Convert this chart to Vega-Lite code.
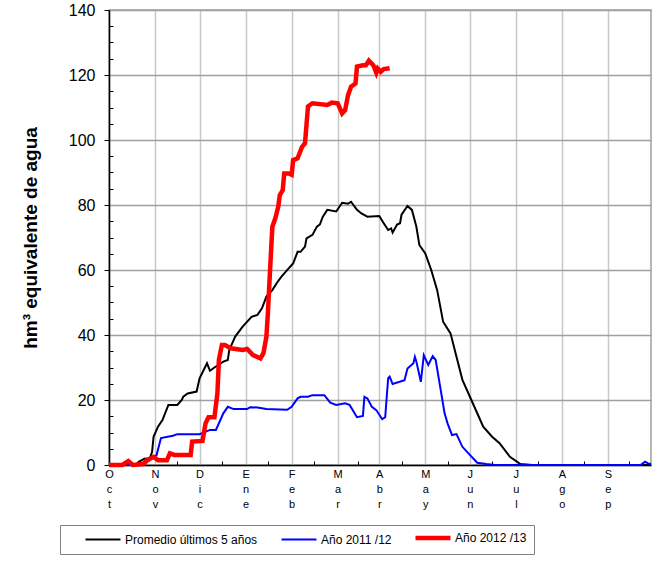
{
  "$schema": "https://vega.github.io/schema/vega-lite/v6.json",
  "width": 542,
  "height": 455,
  "autosize": "none",
  "padding": {"left": 109, "top": 10, "right": 7, "bottom": 97},
  "background": "white",
  "config": {
    "font": "Liberation Sans",
    "view": {"stroke": "#a0a0a0", "strokeWidth": 1.5}
  },
  "title": {"text": "121,9 hm³", "anchor": "start", "frame": "group", "dx": 356, "offset": 6, "fontSize": 16, "fontWeight": "bold", "color": "black"},
  "datasets": {
    "P": [{"d":0,"v":0},{"d":18,"v":0},{"d":20,"v":1},{"d":24,"v":2},{"d":27,"v":1.5},{"d":29,"v":4},{"d":30,"v":8.7},{"d":33,"v":11.8},{"d":36,"v":13.8},{"d":40,"v":18.5},{"d":46,"v":18.5},{"d":49,"v":20},{"d":50,"v":21},{"d":53,"v":22},{"d":59,"v":22.6},{"d":61,"v":26.7},{"d":66,"v":31.3},{"d":68,"v":29},{"d":71,"v":30},{"d":77,"v":31.8},{"d":80,"v":32.3},{"d":81,"v":35.4},{"d":85,"v":39.5},{"d":90,"v":42.6},{"d":96,"v":45.6},{"d":100,"v":46.2},{"d":103,"v":48.2},{"d":106,"v":51.8},{"d":110,"v":53.8},{"d":113,"v":56},{"d":116,"v":57.9},{"d":121,"v":60.5},{"d":124,"v":62},{"d":127,"v":65.6},{"d":129,"v":65.6},{"d":132,"v":67.2},{"d":133,"v":69.7},{"d":137,"v":70.8},{"d":140,"v":73.3},{"d":142,"v":74},{"d":144,"v":76.4},{"d":147,"v":78.5},{"d":153,"v":78},{"d":157,"v":80.7},{"d":161,"v":80.4},{"d":163,"v":81},{"d":167,"v":78.5},{"d":170,"v":77.4},{"d":174,"v":76.4},{"d":182,"v":76.6},{"d":185,"v":74.4},{"d":188,"v":72.3},{"d":190,"v":72.8},{"d":191,"v":71.5},{"d":194,"v":74},{"d":196,"v":74.4},{"d":197,"v":77},{"d":201,"v":79.7},{"d":204,"v":78.5},{"d":207,"v":73.3},{"d":209,"v":67.7},{"d":213,"v":65.1},{"d":217,"v":60},{"d":221,"v":53.8},{"d":225,"v":44.1},{"d":230,"v":40.5},{"d":234,"v":33.3},{"d":238,"v":26.2},{"d":245,"v":19},{"d":252,"v":11.8},{"d":258,"v":8.7},{"d":263,"v":6.7},{"d":270,"v":2.5},{"d":277,"v":0.3},{"d":285,"v":0},{"d":365,"v":0}],
    "B": [{"d":0,"v":0},{"d":23,"v":0},{"d":25,"v":2},{"d":30,"v":2.5},{"d":32,"v":3},{"d":35,"v":8.3},{"d":43,"v":9},{"d":46,"v":9.5},{"d":61,"v":9.5},{"d":68,"v":10.8},{"d":72,"v":10.8},{"d":77,"v":15.9},{"d":80,"v":17.9},{"d":84,"v":17.2},{"d":93,"v":17.2},{"d":95,"v":17.8},{"d":100,"v":17.7},{"d":106,"v":17.2},{"d":120,"v":17},{"d":123,"v":17.9},{"d":127,"v":20.5},{"d":129,"v":21},{"d":134,"v":21},{"d":137,"v":21.5},{"d":145,"v":21.5},{"d":149,"v":19.2},{"d":153,"v":18.5},{"d":159,"v":19},{"d":162,"v":18.5},{"d":167,"v":14.7},{"d":171,"v":15.1},{"d":172,"v":21},{"d":174,"v":20.5},{"d":177,"v":17.9},{"d":180,"v":16.9},{"d":184,"v":14.1},{"d":186,"v":14.7},{"d":188,"v":26.7},{"d":189,"v":27.2},{"d":191,"v":24.9},{"d":199,"v":26.1},{"d":201,"v":29.7},{"d":205,"v":31.3},{"d":206,"v":33.3},{"d":207,"v":31.8},{"d":210,"v":25.6},{"d":212,"v":33.8},{"d":215,"v":30.8},{"d":218,"v":33.5},{"d":220,"v":32.3},{"d":223,"v":24.1},{"d":226,"v":15.9},{"d":228,"v":12.8},{"d":231,"v":9.2},{"d":234,"v":9.5},{"d":238,"v":5.6},{"d":243,"v":3.1},{"d":248,"v":0.7},{"d":254,"v":0.3},{"d":260,"v":0},{"d":358,"v":0},{"d":361,"v":1},{"d":363,"v":0.5},{"d":365,"v":0.3}],
    "R": [{"d":0,"v":0},{"d":9,"v":0},{"d":13,"v":1.2},{"d":16,"v":0},{"d":23,"v":0.3},{"d":26,"v":1.5},{"d":30,"v":2.5},{"d":33,"v":1.5},{"d":39,"v":1.5},{"d":41,"v":3.6},{"d":44,"v":3.1},{"d":55,"v":3.1},{"d":56,"v":7.2},{"d":63,"v":7.4},{"d":65,"v":12.8},{"d":67,"v":14.7},{"d":71,"v":14.7},{"d":73,"v":22},{"d":74,"v":32.3},{"d":76,"v":36.9},{"d":78,"v":36.9},{"d":82,"v":35.9},{"d":90,"v":35.4},{"d":93,"v":35.7},{"d":97,"v":33.8},{"d":102,"v":32.8},{"d":104,"v":34.4},{"d":106,"v":39.5},{"d":107,"v":46.7},{"d":108,"v":55.9},{"d":110,"v":73.3},{"d":112,"v":75.9},{"d":114,"v":79.5},{"d":115,"v":83},{"d":117,"v":84.6},{"d":118,"v":89.7},{"d":121,"v":89.7},{"d":123,"v":89.3},{"d":124,"v":93.8},{"d":127,"v":94.4},{"d":130,"v":97.9},{"d":132,"v":99},{"d":134,"v":110.3},{"d":137,"v":111.3},{"d":147,"v":110.8},{"d":150,"v":111.5},{"d":154,"v":111.3},{"d":157,"v":108.2},{"d":159,"v":109.2},{"d":161,"v":113.8},{"d":163,"v":116.4},{"d":166,"v":117.4},{"d":167,"v":122.6},{"d":171,"v":123},{"d":173,"v":123},{"d":175,"v":124.4},{"d":178,"v":123},{"d":180,"v":120.7},{"d":181,"v":122},{"d":183,"v":121},{"d":185,"v":121.8},{"d":189,"v":122.1}]
  },
  "encoding": {
    "x": {
      "field": "d", "type": "quantitative",
      "scale": {"domain": [0, 365], "nice": false, "zero": false},
      "axis": {
        "title": null,
        "values": [0,15,31,46,61,76,92,107,123,138,154,168,182,197,213,228,243,258,274,289,305,320,336,350],
        "labelExpr": "indexof([0,31,61,92,123,154,182,213,243,274,305,336], datum.value) >= 0 ? split(['Oct','Nov','Dic','Ene','Feb','Mar','Abr','May','Jun','Jul','Ago','Sep'][indexof([0,31,61,92,123,154,182,213,243,274,305,336], datum.value)], '') : ''",
        "labelFontSize": 11,
        "labelLineHeight": 15,
        "labelColor": "black",
        "labelAngle": 0,
        "labelBaseline": "top",
        "labelFlush": false,
        "labelOverlap": false,
        "labelPadding": 3,
        "grid": true,
        "gridColor": "#c8c8c8",
        "gridWidth": 1.5,
        "gridOpacity": {"condition": {"test": "indexof([0,31,61,92,123,154,182,213,243,274,305,336], datum.value) >= 0", "value": 1}, "value": 0},
        "tickColor": "black",
        "tickSize": {"condition": {"test": "indexof([0,31,61,92,123,154,182,213,243,274,305,336], datum.value) >= 0", "value": 0}, "value": -4},
        "domainColor": "black",
        "domainWidth": 1.5
      }
    },
    "y": {
      "field": "v", "type": "quantitative",
      "scale": {"domain": [0, 140], "nice": false},
      "axis": {
        "title": "hm³ equivalente de agua",
        "titleFontSize": 19,
        "titleFontWeight": "bold",
        "titleColor": "black",
        "titlePadding": 28,
        "values": [0,5,10,15,20,25,30,35,40,45,50,55,60,65,70,75,80,85,90,95,100,105,110,115,120,125,130,135,140],
        "labelExpr": "datum.value % 20 === 0 ? datum.label : ''",
        "labelFontSize": 16,
        "labelColor": "black",
        "labelPadding": 9,
        "grid": true,
        "gridColor": "#a0a0a0",
        "gridWidth": 1.5,
        "gridOpacity": {"condition": {"test": "datum.value % 20 === 0", "value": 1}, "value": 0},
        "tickColor": "black",
        "tickSize": {"condition": {"test": "datum.value % 20 === 0", "value": 5}, "value": -4},
        "domainColor": "black",
        "domainWidth": 1.5
      }
    },
    "color": {
      "type": "nominal",
      "scale": {"domain": ["Promedio últimos 5 años", "Año 2011 /12", "Año 2012 /13"], "range": ["#000000", "#0000ff", "#ff0000"]},
      "legend": {
        "title": null,
        "orient": "none",
        "legendX": -49,
        "legendY": 515,
        "direction": "horizontal",
        "symbolType": "M-2,0H2",
        "symbolSize": 306,
        "symbolOffset": 30,
        "labelFontSize": 12,
        "labelColor": "black",
        "labelOffset": 16,
        "labelLimit": 300,
        "columnPadding": 5,
        "strokeColor": "#808080",
        "padding": 7,
        "fillColor": "white",
        "encode": {"symbols": {"update": {"strokeWidth": {"signal": "datum.value === 'Año 2012 /13' ? 4.5 : 2"}}}}
      }
    }
  },
  "layer": [
    {
      "data": {"name": "P"},
      "mark": {"type": "line", "strokeWidth": 2},
      "encoding": {"color": {"datum": "Promedio últimos 5 años"}}
    },
    {
      "data": {"name": "B"},
      "mark": {"type": "line", "strokeWidth": 2},
      "encoding": {"color": {"datum": "Año 2011 /12"}}
    },
    {
      "data": {"name": "R"},
      "mark": {"type": "line", "strokeWidth": 4.5},
      "encoding": {"color": {"datum": "Año 2012 /13"}}
    }
  ]
}
